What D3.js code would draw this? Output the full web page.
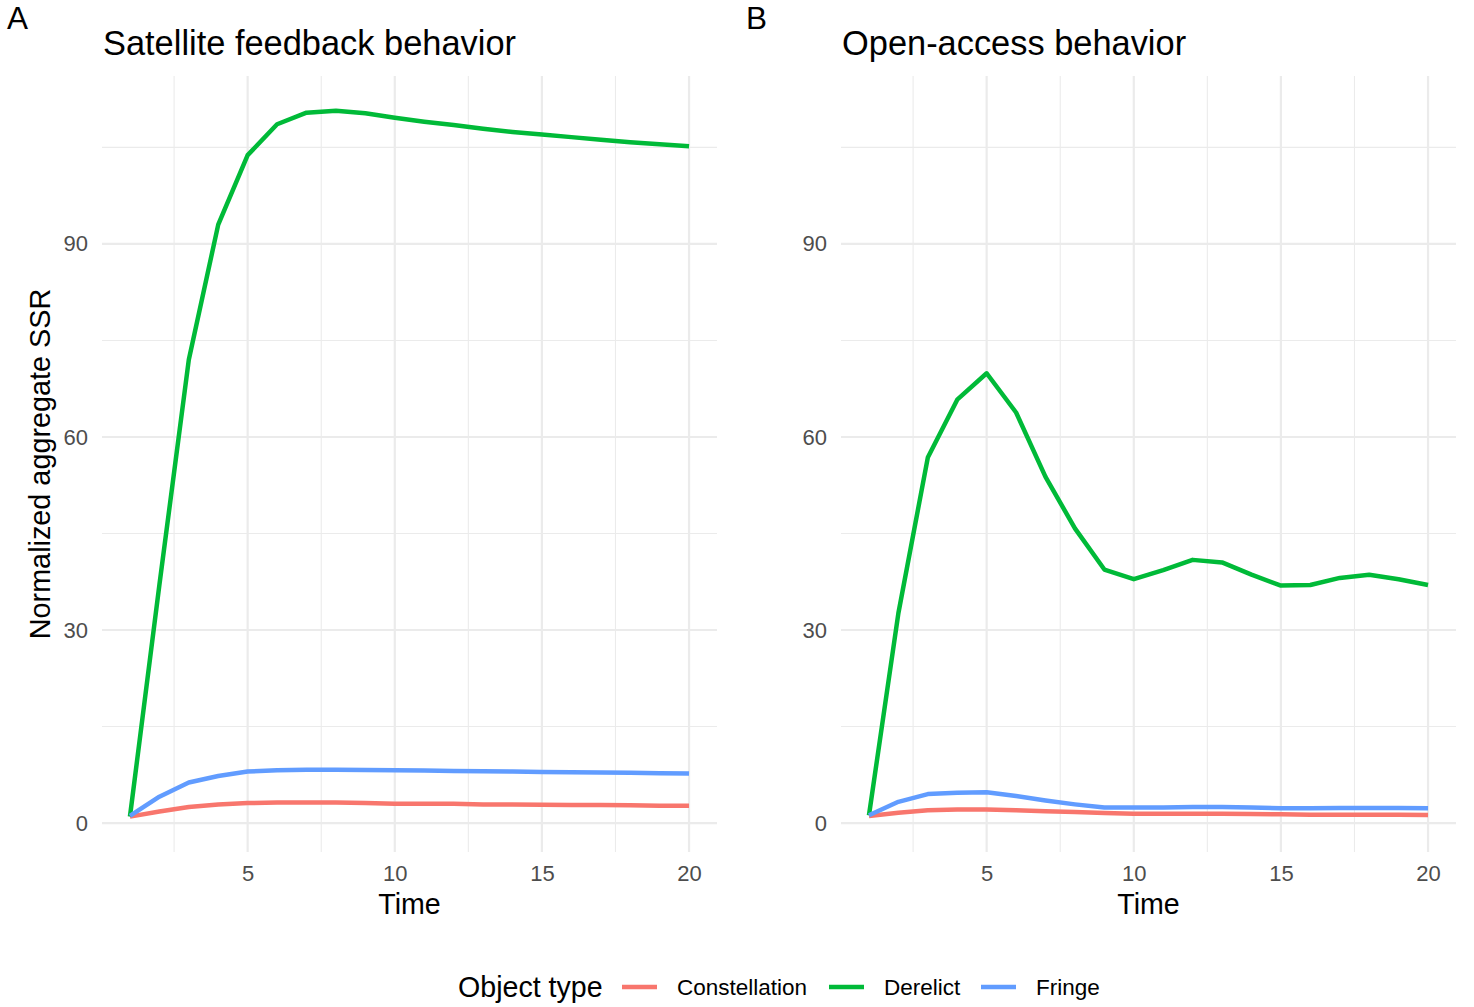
<!DOCTYPE html>
<html>
<head>
<meta charset="utf-8">
<script src="https://cdn.jsdelivr.net/npm/d3@7"></script>
<style>
  body { margin: 0; background: #fff; }
  svg { display: block; font-family: "Liberation Sans", Arial, sans-serif; }
</style>
</head>
<body>
<svg id="chart" width="1474" height="1007"></svg>
<script>
// Data
const times = d3.range(1, 21);
const seriesNames = ['Constellation', 'Derelict', 'Fringe'];
const seriesColors = ['#F8766D', '#00BA38', '#619CFF'];

// Panel A: satellite feedback behavior
const feedbackConstellation = [1.0, 1.8, 2.5, 2.9, 3.1, 3.2, 3.2, 3.2, 3.1, 3.0, 3.0, 3.0, 2.9, 2.9, 2.85, 2.8, 2.8, 2.75, 2.7, 2.7];
const feedbackDerelict = [1.0, 37, 72, 93, 103.8, 108.6, 110.4, 110.7, 110.3, 109.6, 109.0, 108.5, 107.9, 107.4, 107.0, 106.6, 106.2, 105.8, 105.5, 105.2];
const feedbackFringe = [1.1, 4.1, 6.3, 7.3, 8.0, 8.2, 8.3, 8.3, 8.25, 8.2, 8.15, 8.1, 8.05, 8.0, 7.95, 7.9, 7.85, 7.8, 7.75, 7.7];

// Panel B: open-access behavior
const openConstellation = [1.1, 1.6, 2.0, 2.1, 2.1, 2.0, 1.85, 1.7, 1.55, 1.45, 1.45, 1.45, 1.45, 1.4, 1.35, 1.3, 1.3, 1.3, 1.3, 1.25];
const openDerelict = [1.2, 32.6, 56.8, 65.8, 69.9, 63.8, 53.8, 45.8, 39.4, 37.9, 39.3, 40.9, 40.5, 38.6, 36.9, 37.0, 38.1, 38.6, 37.9, 37.0];
const openFringe = [1.2, 3.3, 4.5, 4.7, 4.8, 4.2, 3.5, 2.9, 2.4, 2.4, 2.4, 2.5, 2.5, 2.4, 2.3, 2.3, 2.35, 2.35, 2.35, 2.3];

const xTicks = [5, 10, 15, 20];
const xMinor = [2.5, 7.5, 12.5, 17.5];
const yTicks = [0, 30, 60, 90];
const yMinor = [15, 45, 75, 105];

const panels = [
  { tag: 'A', title: 'Satellite feedback behavior', left: 102, values: [feedbackConstellation, feedbackDerelict, feedbackFringe] },
  { tag: 'B', title: 'Open-access behavior', left: 841, values: [openConstellation, openDerelict, openFringe] }
];

const panelWidth = 615;
const plotTop = 76, plotBottom = 852;

const svg = d3.select('#chart');

const y = d3.scaleLinear()
    .domain([-4.5, 116.1])
    .range([plotBottom, plotTop]);

panels.forEach((p, pi) => {
  const x = d3.scaleLinear()
      .domain([0.05, 20.95])
      .range([p.left, p.left + panelWidth]);

  const g = svg.append('g');

  // minor grid
  g.selectAll('.ymin').data(yMinor).enter().append('line')
      .attr('x1', p.left).attr('x2', p.left + panelWidth)
      .attr('y1', d => y(d)).attr('y2', d => y(d))
      .attr('stroke', '#EBEBEB').attr('stroke-width', 1.1);
  g.selectAll('.xmin').data(xMinor).enter().append('line')
      .attr('y1', plotTop).attr('y2', plotBottom)
      .attr('x1', d => x(d)).attr('x2', d => x(d))
      .attr('stroke', '#EBEBEB').attr('stroke-width', 1.1);

  // major grid
  g.selectAll('.ymaj').data(yTicks).enter().append('line')
      .attr('x1', p.left).attr('x2', p.left + panelWidth)
      .attr('y1', d => y(d)).attr('y2', d => y(d))
      .attr('stroke', '#EBEBEB').attr('stroke-width', 2.2);
  g.selectAll('.xmaj').data(xTicks).enter().append('line')
      .attr('y1', plotTop).attr('y2', plotBottom)
      .attr('x1', d => x(d)).attr('x2', d => x(d))
      .attr('stroke', '#EBEBEB').attr('stroke-width', 2.2);

  // axes (text only, like theme_minimal)
  const yAxis = g.append('g')
      .attr('transform', `translate(${p.left},0)`)
      .call(d3.axisLeft(y).tickValues(yTicks).tickSize(0).tickPadding(14));
  yAxis.select('.domain').remove();
  yAxis.selectAll('text')
      .attr('fill', '#4D4D4D').attr('font-size', 22)
      .attr('font-family', '"Liberation Sans", Arial, sans-serif');

  const xAxis = g.append('g')
      .attr('transform', `translate(0,${plotBottom})`)
      .call(d3.axisBottom(x).tickValues(xTicks).tickSize(0).tickPadding(13));
  xAxis.select('.domain').remove();
  xAxis.selectAll('text')
      .attr('fill', '#4D4D4D').attr('font-size', 22)
      .attr('font-family', '"Liberation Sans", Arial, sans-serif');

  // lines
  const line = d3.line()
      .x((d, i) => x(times[i]))
      .y(d => y(d));

  p.values.forEach((vals, si) => {
    g.append('path')
        .datum(vals)
        .attr('d', line)
        .attr('fill', 'none')
        .attr('stroke', seriesColors[si])
        .attr('stroke-width', 4.5)
        .attr('stroke-linejoin', 'round');
  });

  // titles
  g.append('text')
      .attr('x', p.left + 1).attr('y', 55)
      .attr('font-size', 34.4)
      .text(p.title);
  g.append('text')
      .attr('x', p.left - 95).attr('y', 28.5)
      .attr('font-size', 31.5)
      .text(p.tag);
  g.append('text')
      .attr('x', p.left + panelWidth / 2).attr('y', 914)
      .attr('text-anchor', 'middle')
      .attr('font-size', 28.6)
      .text('Time');

  if (pi === 0) {
    g.append('text')
        .attr('transform', `translate(50,${(plotTop + plotBottom) / 2}) rotate(-90)`)
        .attr('text-anchor', 'middle')
        .attr('font-size', 28.8)
        .text('Normalized aggregate SSR');
  }
});

// legend
const legend = svg.append('g').attr('transform', 'translate(458,987)');
legend.append('text')
    .attr('x', 0).attr('y', 10)
    .attr('font-size', 28.6)
    .text('Object type');

const keyX = [164, 371, 523];
seriesNames.forEach((name, i) => {
  legend.append('line')
      .attr('x1', keyX[i]).attr('x2', keyX[i] + 35)
      .attr('y1', 0).attr('y2', 0)
      .attr('stroke', seriesColors[i]).attr('stroke-width', 4.5);
  legend.append('text')
      .attr('x', keyX[i] + 55).attr('y', 8)
      .attr('font-size', 22.5)
      .text(name);
});
</script>
</body>
</html>
